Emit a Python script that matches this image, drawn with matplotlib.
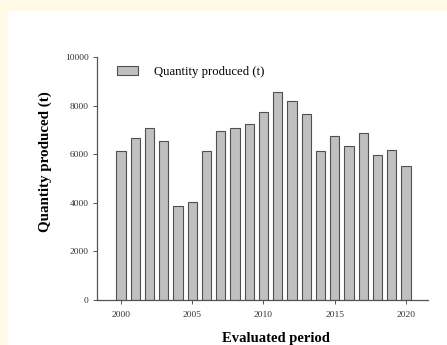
import numpy as np
import matplotlib.pyplot as plt
from matplotlib.patches import Rectangle

years = list(range(2000, 2021))
quantity = [6130, 6680, 7060, 6540, 3880, 4030, 6130, 6950, 7060, 7230, 7750,
            8550, 8190, 7640, 6130, 6760, 6320, 6870, 5970, 6190, 5500]
x_ticks = [2000, 2005, 2010, 2015, 2020]
y_ticks = [0, 2000, 4000, 6000, 8000, 10000]

plt.rcParams['font.family'] = ['Liberation Serif', 'DejaVu Serif']

fig = plt.figure(figsize=(4.47, 3.45), dpi=100)
fig.patch.set_facecolor('#fff9e6')
# white page area behind the chart
fig.patches.append(Rectangle((8 / 447, 0), 1, 1 - 11 / 345, transform=fig.transFigure,
                             facecolor='white', edgecolor='none', zorder=-1))

ax = fig.add_axes([97 / 447, 45 / 345, 331 / 447, 243 / 345])
ax.set_facecolor('white')
ax.bar(years, quantity, width=0.65, color='#c0c0c0', edgecolor='#505050',
       linewidth=0.8, label='Quantity produced (t)')

ax.set_xlim(1998.32, 2021.54)
ax.set_ylim(0, 10000)
ax.set_xticks(x_ticks)
ax.set_yticks(y_ticks)
ax.tick_params(labelsize=6.8, length=3, width=0.7, color='#555555', labelcolor='#333333')
ax.tick_params(axis='x', pad=5)
ax.tick_params(axis='y', pad=3)
for s in ['top', 'right']:
    ax.spines[s].set_visible(False)
for s in ['left', 'bottom']:
    ax.spines[s].set_color('#555555')
    ax.spines[s].set_linewidth(0.9)

ax.set_ylabel('Quantity produced (t)', fontsize=10.8, fontweight='bold', va='center')
ax.yaxis.set_label_coords(-(97 - 45) / 331, (300 - 162) / 243)
ax.set_xlabel('Evaluated period', fontsize=10.5, fontweight='bold', va='top')
ax.xaxis.set_label_coords((276 - 97) / 331, -32 / 243)

ax.legend(loc='upper left', bbox_to_anchor=(0.025, 1.01), frameon=False, fontsize=9.2,
          handlelength=1.7, handleheight=0.7, handletextpad=1.2)

fig.savefig('out.png', dpi=100, facecolor=fig.get_facecolor())
